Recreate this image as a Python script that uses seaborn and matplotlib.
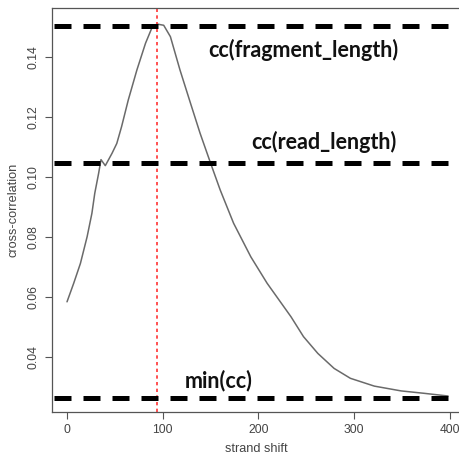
import matplotlib
matplotlib.use("Agg")
import matplotlib.pyplot as plt
import seaborn as sns
import pandas as pd

# strand cross-correlation profile
shift = [0, 7, 14, 21, 26, 29, 33, 35.5, 40, 47, 52, 57, 64, 73, 82, 89, 94,
         101, 108, 118, 129, 139, 150, 160, 174, 192, 209, 234, 247, 262, 279,
         296, 321, 349, 373, 398]
cc = [0.0584, 0.0646, 0.0712, 0.0801, 0.0879, 0.0946, 0.1012, 0.1058, 0.1038,
      0.1079, 0.1112, 0.1168, 0.1257, 0.1357, 0.1446, 0.1500, 0.1510,
      0.1506, 0.1468, 0.1357, 0.1246, 0.1146, 0.1046, 0.0957, 0.0846, 0.0734,
      0.0646, 0.0534, 0.0468, 0.0412, 0.0362, 0.0329, 0.0303, 0.0287, 0.0279,
      0.0270]

ref_levels = [0.1505, 0.1048, 0.0263]
ref_labels = ["cc(fragment_length)", "cc(read_length)", "min(cc)"]
label_x = [247, 268, 158]
label_y = [0.1423, 0.1118, 0.0323]
peak_shift = 94

df = pd.DataFrame({"shift": shift, "cc": cc})

sns.set_style("white")
plt.rcParams["font.family"] = ["Liberation Sans", "DejaVu Sans"]
fig = plt.figure(figsize=(4.6, 4.59), dpi=100)
ax = fig.add_axes([0.113, 0.1024, 0.887, 0.880])

sns.lineplot(data=df, x="shift", y="cc", ax=ax, color="#6a6a6a", linewidth=1.1)

ax.axvline(peak_shift, color="#ff3333", linewidth=1.2, linestyle=(0, (2.0, 2.0)))
for lvl in ref_levels:
    ax.hlines(lvl, -14, 401, colors="black", linewidth=3.6, linestyles=[(0, (3.4, 2.4))])

for txt, tx, ty in zip(ref_labels, label_x, label_y):
    ax.text(tx, ty, txt, ha="center", va="center", fontsize=15.5,
            fontweight="bold", family="Lato", color="#111111")

ax.set_xlim(-15.7, 410.5)
ax.set_ylim(0.02167, 0.15633)
ax.set_xticks([0, 100, 200, 300, 400])
ax.set_yticks([0.04, 0.06, 0.08, 0.10, 0.12, 0.14])
ax.set_yticklabels(["0.04", "0.06", "0.08", "0.10", "0.12", "0.14"], rotation=90, va="center")
ax.tick_params(axis="both", direction="out", length=5, width=0.8, colors="#555555",
               labelsize=8.7, labelcolor="#444444", pad=4)
ax.tick_params(left=True, bottom=True)
for sp in ax.spines.values():
    sp.set_color("#555555")
    sp.set_linewidth(0.9)

ax.set_xlabel("strand shift", fontsize=9.2, color="#444444", labelpad=5)
ax.set_ylabel("cross-correlation", fontsize=9.2, color="#444444", labelpad=6)

fig.savefig("out.png", dpi=100)
